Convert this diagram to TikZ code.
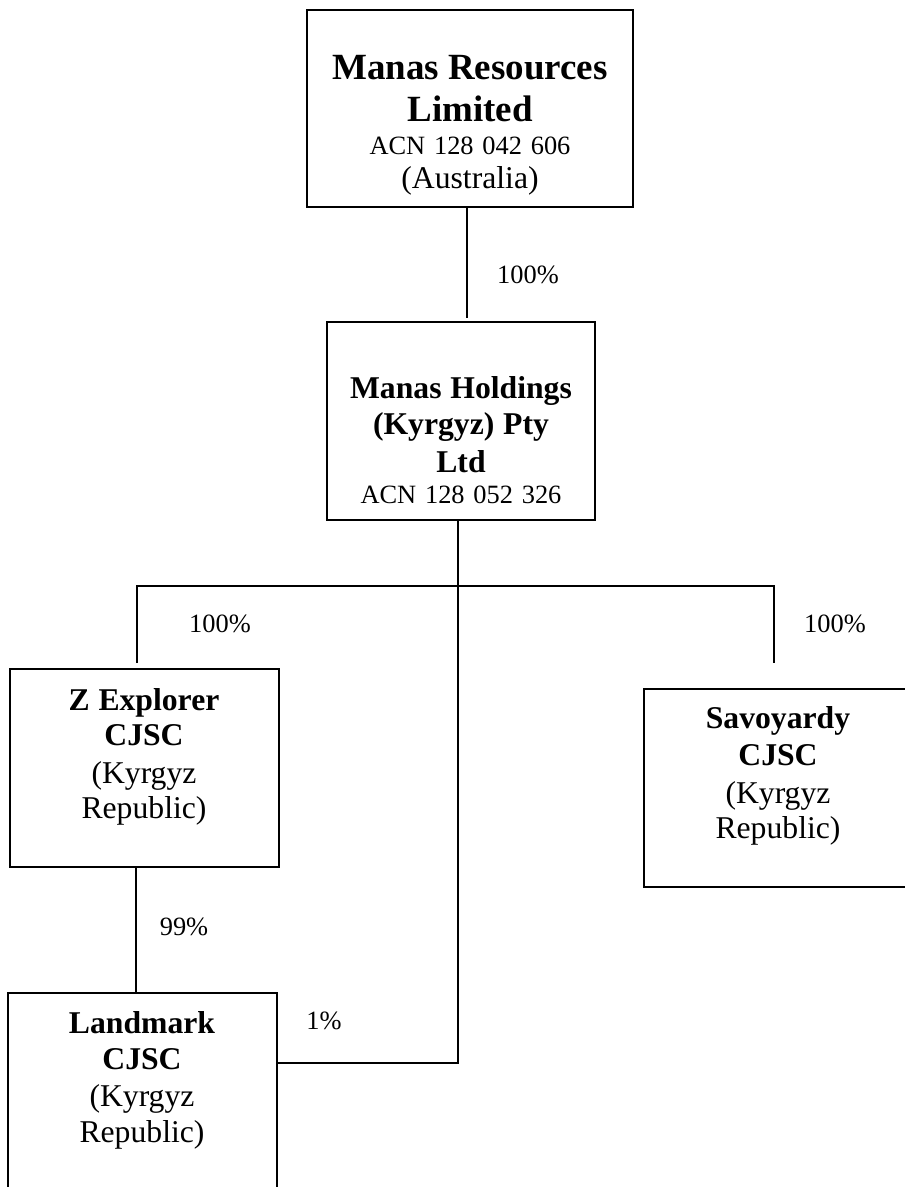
\documentclass[tikz,border=0pt]{standalone}
\usepackage{fontspec}
\setmainfont{Liberation Serif}
\usetikzlibrary{fit}
\newcommand{\Ln}[3]{{\fontsize{#1}{#2}\selectfont #3\par}}
\newcommand{\Lb}[3]{{\fontsize{#1}{#2}\selectfont\bfseries #3\par}}
\newcommand{\Fst}{\rule{0pt}{10pt}}
\begin{document}
\begin{tikzpicture}[x=0.3788pt, y=-0.3788pt,
  box/.style={draw, line width=0.75pt, inner sep=0pt},
  conn/.style={line width=0.6pt},
  txt/.style={inner sep=0pt, anchor=north, align=center, text width=#1,
    font={\parindent=0pt\lineskiplimit=-100pt}},
  lbl/.style={inner sep=0pt, anchor=base, font=\fontsize{10}{11.5}\selectfont}]
\fill[white] (0,0) rectangle (904,1187);
\useasboundingbox (0,0) rectangle (904,1187);

% boxes
\node[box, fit={(307,10) (633,207)}] (top) {};
\node[box, fit={(327,322) (595,520)}] (hold) {};
\node[box, fit={(10,669) (279,867)}] (zexp) {};
\node[box, fit={(644,689) (913,887)}] (savo) {};
\node[box, fit={(8,993) (277,1192)}] (land) {};

% texts
\node[txt=118pt] (ttop) at (470,52.6) {%
  \Lb{14}{16}{\Fst Manas Resources}
  \Lb{14}{15.9}{Limited}
  \Ln{10}{12.5}{ACN 128 042 606}
  \Ln{12}{12.9}{(Australia)}};
\node[txt=96pt] (thold) at (461,371.6) {%
  \Lb{12}{14}{\Fst Manas Holdings}
  \Lb{12}{13.5}{(Kyrgyz) Pty}
  \Lb{12}{14.5}{Ltd}
  \Ln{10}{11.6}{ACN 128 052 326}};
\node[txt=96pt] (tzexp) at (144,683.6) {%
  \Lb{12}{14}{\Fst Z Explorer}
  \Lb{12}{13.3}{CJSC}
  \Ln{12}{14.3}{(Kyrgyz}
  \Ln{12}{13.4}{Republic)}};
\node[txt=96pt] (tsavo) at (778,701.6) {%
  \Lb{12}{14}{\Fst Savoyardy}
  \Lb{12}{14.0}{CJSC}
  \Ln{12}{14.4}{(Kyrgyz}
  \Ln{12}{13.3}{Republic)}};
\node[txt=96pt] (tland) at (142,1006.3) {%
  \Lb{12}{14}{\Fst Landmark}
  \Lb{12}{13.8}{CJSC}
  \Ln{12}{14.0}{(Kyrgyz}
  \Ln{12}{13.5}{Republic)}};

% connector coordinates
\coordinate (c1) at (467,318);
\coordinate (j) at (458,586);
\coordinate (k) at (458,1063);
\coordinate (zl) at (137,663);
\coordinate (sr) at (774,663);
\coordinate (zc) at (136,930);

% connectors
\draw[conn] (top.south -| c1) -- (c1);
\draw[conn] (hold.south -| j) -- (j) -- (k) -- (k -| land.east);
\draw[conn] (zl) -- (zl |- j) -- (sr |- j) -- (sr);
\draw[conn] (zexp.south -| zc) -- (land.north -| zc);

% labels
\node[lbl] (p1) at (528,283) {100\%};
\node[lbl] (p2) at (220,632) {100\%};
\node[lbl] (p3) at (835,632) {100\%};
\node[lbl] (p4) at (184,935) {99\%};
\node[lbl] (p5) at (324,1029) {1\%};
\end{tikzpicture}
\end{document}
